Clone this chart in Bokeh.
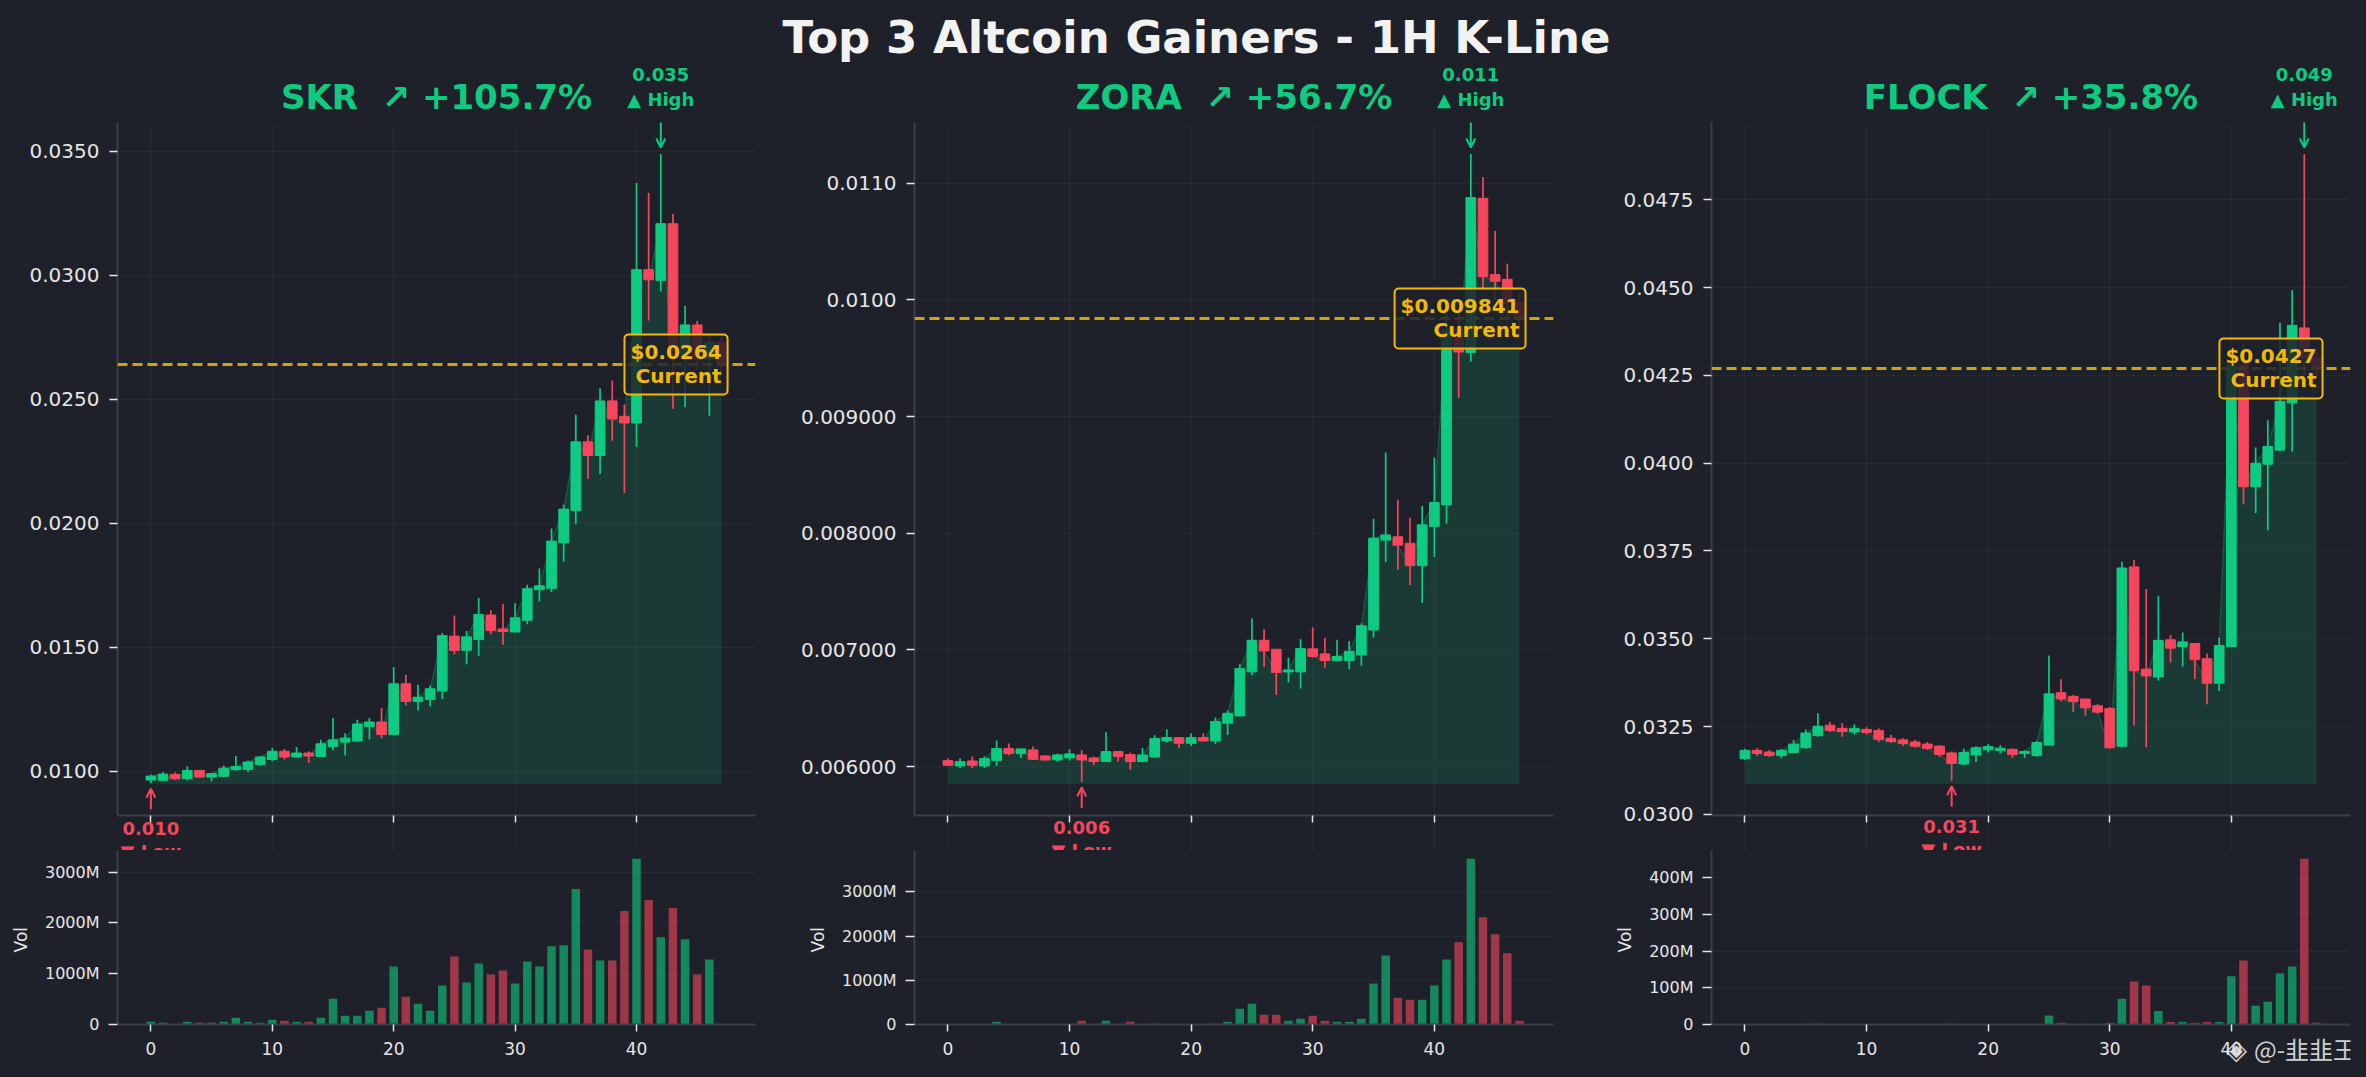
import numpy as np
from bokeh.plotting import figure
from bokeh.layouts import column, row
from bokeh.models import (ColumnDataSource, Range1d, FixedTicker, CustomJSTickFormatter,
                          Label, Arrow, OpenHead, Span, GlobalInlineStyleSheet)
from bokeh.embed import file_html
from bokeh.resources import INLINE

# ---------------- data ----------------
TITLE = "Top 3 Altcoin Gainers - 1H K-Line"
SYMBOLS = ["SKR", "ZORA", "FLOCK"]
CHANGE_PCT = ["+105.7%", "+56.7%", "+35.8%"]
CURRENT = [0.0264, 0.009841, 0.0427]
CURRENT_TXT = ["$0.0264", "$0.009841", "$0.0427"]
WATERMARK = "@-\u97ed\u97ed\u738b"
X_TICKS = [0, 10, 20, 30, 40]

SKR_OPEN = [0.00965, 0.00964, 0.00988, 0.00970, 0.01004, 0.00977, 0.00980, 0.01007, 0.01008, 0.01028,
            0.01048, 0.01081, 0.01058, 0.01074, 0.01060, 0.01101, 0.01118, 0.01122, 0.01181, 0.01199,
            0.01149, 0.01353, 0.01282, 0.01290, 0.01324, 0.01545, 0.01488, 0.01532, 0.01630, 0.01574,
            0.01562, 0.01609, 0.01732, 0.01738, 0.01921, 0.02051, 0.02328, 0.02273, 0.02493, 0.02431,
            0.02404, 0.03022, 0.02979, 0.03207, 0.02680, 0.02799, 0.02660, 0.02730]
SKR_HIGH = [0.00987, 0.00997, 0.00996, 0.01021, 0.01006, 0.00993, 0.01024, 0.01062, 0.01044, 0.01062,
            0.01094, 0.01091, 0.01098, 0.01081, 0.01127, 0.01215, 0.01154, 0.01208, 0.01215, 0.01255,
            0.01420, 0.01389, 0.01349, 0.01346, 0.01557, 0.01628, 0.01566, 0.01699, 0.01650, 0.01675,
            0.01678, 0.01752, 0.01818, 0.01979, 0.02075, 0.02437, 0.02355, 0.02544, 0.02575, 0.02478,
            0.03371, 0.03332, 0.03488, 0.03246, 0.02876, 0.02815, 0.02750, 0.02750]
SKR_LOW = [0.00952, 0.00960, 0.00966, 0.00964, 0.00975, 0.00960, 0.00976, 0.01004, 0.00997, 0.01024,
           0.01042, 0.01048, 0.01055, 0.01034, 0.01058, 0.01085, 0.01064, 0.01118, 0.01129, 0.01133,
           0.01149, 0.01266, 0.01245, 0.01262, 0.01291, 0.01471, 0.01432, 0.01466, 0.01553, 0.01510,
           0.01560, 0.01593, 0.01685, 0.01722, 0.01845, 0.01996, 0.02178, 0.02198, 0.02332, 0.02122,
           0.02307, 0.02817, 0.02934, 0.02461, 0.02467, 0.02620, 0.02433, 0.02610]
SKR_CLOSE = [0.00981, 0.00989, 0.00970, 0.01004, 0.00977, 0.00991, 0.01013, 0.01020, 0.01038, 0.01058,
             0.01081, 0.01058, 0.01074, 0.01062, 0.01111, 0.01127, 0.01134, 0.01191, 0.01199, 0.01149,
             0.01353, 0.01282, 0.01299, 0.01333, 0.01547, 0.01487, 0.01542, 0.01632, 0.01568, 0.01564,
             0.01619, 0.01736, 0.01748, 0.01928, 0.02057, 0.02328, 0.02273, 0.02493, 0.02420, 0.02404,
             0.03022, 0.02981, 0.03207, 0.02680, 0.02799, 0.02660, 0.02730, 0.02640]
SKR_VOL_M = [53, 33, 8, 53, 33, 33, 53, 132, 53, 33,
             93, 73, 53, 53, 132, 509, 172, 172, 271, 330,
             1143, 549, 410, 271, 767, 1342, 826, 1203, 985, 1064,
             806, 1243, 1143, 1540, 1560, 2670, 1480, 1262, 1262, 2234,
             3265, 2452, 1718, 2294, 1679, 985, 1282, 10]

ZORA_OPEN = [0.0060514, 0.0060057, 0.0060486, 0.0060057, 0.0060514, 0.0061543, 0.0061114, 0.0061429, 0.0060914, 0.0060571,
             0.0060743, 0.0061000, 0.0060743, 0.0060429, 0.0061286, 0.0061029, 0.0060429, 0.0060829, 0.0062200, 0.0062486,
             0.0062000, 0.0062486, 0.0062200, 0.0063714, 0.0064343, 0.0068114, 0.0070829, 0.0070057, 0.0068114, 0.0068114,
             0.007009, 0.006966, 0.006909, 0.006909, 0.006957, 0.007171, 0.007941, 0.007970, 0.007914, 0.007722,
             0.008059, 0.008243, 0.009750, 0.009548, 0.010870, 0.010216, 0.010176, 0.009980]
ZORA_HIGH = [0.0060686, 0.0060686, 0.0060857, 0.0060857, 0.0062229, 0.0061971, 0.0061514, 0.0061714, 0.0060971, 0.0061114,
             0.0061486, 0.0061400, 0.0060857, 0.0062943, 0.0061286, 0.0061200, 0.0061600, 0.0062686, 0.0063200, 0.0062486,
             0.0062857, 0.0062857, 0.0064200, 0.0064800, 0.0068771, 0.0072686, 0.0071771, 0.0070057, 0.0069343, 0.0070914,
             0.007193, 0.007103, 0.007088, 0.007075, 0.007228, 0.008124, 0.008692, 0.008286, 0.008133, 0.008234,
             0.008649, 0.009900, 0.009920, 0.011250, 0.011053, 0.010590, 0.010310, 0.010050]
ZORA_LOW = [0.0060057, 0.0059886, 0.0059886, 0.0059886, 0.0060057, 0.0060971, 0.0060743, 0.0060571, 0.0060514, 0.0060400,
            0.0060514, 0.0058686, 0.0060143, 0.0060429, 0.0060429, 0.0059743, 0.0060429, 0.0060743, 0.0062057, 0.0061600,
            0.0061771, 0.0062200, 0.0061943, 0.0062714, 0.0064343, 0.0067829, 0.0068543, 0.0066143, 0.0067200, 0.0066686,
            0.006935, 0.006847, 0.006901, 0.006835, 0.006865, 0.007105, 0.007752, 0.007687, 0.007556, 0.007403,
            0.007796, 0.008081, 0.009160, 0.009470, 0.010080, 0.010000, 0.009750, 0.009700]
ZORA_CLOSE = [0.0060114, 0.0060429, 0.0060114, 0.0060686, 0.0061543, 0.0061114, 0.0061514, 0.0060629, 0.0060571, 0.0061000,
              0.0061086, 0.0060571, 0.0060429, 0.0061286, 0.0060857, 0.0060429, 0.0061000, 0.0062400, 0.0062486, 0.0062000,
              0.0062486, 0.0062200, 0.0063857, 0.0064571, 0.0068400, 0.0070829, 0.0069914, 0.0068057, 0.0068286, 0.0070114,
              0.006944, 0.006909, 0.006944, 0.006988, 0.007207, 0.007958, 0.007985, 0.007897, 0.007722, 0.008072,
              0.008264, 0.009750, 0.009553, 0.010876, 0.010199, 0.010159, 0.009980, 0.009841]
ZORA_VOL_M = [8, 6, 10, 7, 61, 9, 12, 10, 5, 8,
              11, 84, 9, 84, 7, 61, 10, 14, 9, 12,
              8, 11, 15, 61, 357, 471, 220, 220, 84, 129,
              197, 84, 61, 61, 129, 926, 1564, 607, 562, 562,
              881, 1473, 1860, 3751, 2430, 2043, 1610, 84]

FLOCK_OPEN = [0.031581, 0.031821, 0.031775, 0.031672, 0.031761, 0.031895, 0.032240, 0.032537, 0.032449, 0.032343,
              0.032420, 0.032389, 0.032165, 0.032120, 0.032060, 0.032001, 0.031941, 0.031747, 0.031432, 0.031687,
              0.031835, 0.031820, 0.031850, 0.031732, 0.031672, 0.031970, 0.033462, 0.033359, 0.033285, 0.033091,
              0.033014, 0.031941, 0.037046, 0.034135, 0.033910, 0.034971, 0.034777, 0.034866, 0.034432, 0.033733,
              0.034780, 0.042800, 0.039329, 0.039971, 0.040374, 0.041718, 0.043853, 0.043000]
FLOCK_HIGH = [0.031866, 0.031881, 0.031835, 0.031866, 0.032121, 0.032417, 0.032880, 0.032628, 0.032597, 0.032568,
              0.032480, 0.032449, 0.032269, 0.032165, 0.032120, 0.032060, 0.031970, 0.031791, 0.031866, 0.031941,
              0.032001, 0.031970, 0.031881, 0.031821, 0.032090, 0.034523, 0.033850, 0.033403, 0.033285, 0.033135,
              0.033060, 0.037195, 0.037240, 0.036418, 0.036224, 0.035106, 0.035180, 0.034880, 0.034581, 0.035031,
              0.043200, 0.043400, 0.040448, 0.041224, 0.044001, 0.044926, 0.048807, 0.043300]
FLOCK_LOW = [0.031538, 0.031658, 0.031641, 0.031598, 0.031746, 0.031866, 0.032211, 0.032343, 0.032209, 0.032269,
             0.032269, 0.032060, 0.032029, 0.031955, 0.031900, 0.031835, 0.031641, 0.030956, 0.031403, 0.031492,
             0.031761, 0.031732, 0.031612, 0.031612, 0.031641, 0.031970, 0.033211, 0.032911, 0.032806, 0.032866,
             0.031866, 0.031911, 0.032537, 0.031911, 0.033806, 0.034329, 0.034209, 0.033850, 0.033134, 0.033508,
             0.034780, 0.038829, 0.038582, 0.038091, 0.040330, 0.040330, 0.042500, 0.042400]
FLOCK_CLOSE = [0.031821, 0.031732, 0.031672, 0.031821, 0.032001, 0.032315, 0.032509, 0.032389, 0.032357, 0.032449,
               0.032329, 0.032135, 0.032075, 0.032020, 0.031941, 0.031881, 0.031701, 0.031447, 0.031761, 0.031895,
               0.031926, 0.031881, 0.031701, 0.031791, 0.032046, 0.033433, 0.033285, 0.033211, 0.033031, 0.032911,
               0.031895, 0.037015, 0.034090, 0.033941, 0.034954, 0.034732, 0.034910, 0.034404, 0.033733, 0.034806,
               0.042800, 0.039329, 0.040000, 0.040479, 0.041761, 0.043927, 0.043000, 0.042700]
FLOCK_VOL_M = [1.0, 0.8, 0.6, 0.9, 1.2, 1.5, 1.8, 1.0, 0.9, 0.7,
               0.6, 0.9, 0.7, 0.6, 0.8, 0.7, 1.1, 1.6, 1.0, 0.9,
               0.6, 0.5, 0.7, 0.5, 1.3, 24.7, 4.6, 1.2, 1.5, 1.0,
               4.6, 70, 117, 106, 37, 7, 7, 4.6, 7, 7,
               131, 174, 51, 62, 139, 158, 451, 4.6]

SKR_YTICKS = [0.0100, 0.0150, 0.0200, 0.0250, 0.0300, 0.0350]
ZORA_YTICKS = [0.006, 0.007, 0.008, 0.009, 0.010, 0.011]
FLOCK_YTICKS = [0.0300, 0.0325, 0.0350, 0.0375, 0.0400, 0.0425, 0.0450, 0.0475]
SKR_VTICKS = [0, 1e9, 2e9, 3e9]
ZORA_VTICKS = [0, 1e9, 2e9, 3e9]
FLOCK_VTICKS = [0, 1e8, 2e8, 3e8, 4e8]

PANELS = [
    (SKR_OPEN, SKR_HIGH, SKR_LOW, SKR_CLOSE, SKR_VOL_M, SKR_YTICKS, SKR_VTICKS),
    (ZORA_OPEN, ZORA_HIGH, ZORA_LOW, ZORA_CLOSE, ZORA_VOL_M, ZORA_YTICKS, ZORA_VTICKS),
    (FLOCK_OPEN, FLOCK_HIGH, FLOCK_LOW, FLOCK_CLOSE, FLOCK_VOL_M, FLOCK_YTICKS, FLOCK_VTICKS),
]

# ---------------- style / layout ----------------
BG = "#1e2129"
GREEN = "#0ecb81"
RED = "#f6465d"
GOLD = "#f0b90b"
TXT = "#e6e6e6"
SPINE = "#3a3e46"
FONT = "DejaVu Sans"
BASE_FIX = 0.36   # alphabetic-baseline correction (fraction of font size)

TOTAL_W = 2366
X_RANGE = (-2.75, 49.8)
PANEL_W = [790, 800, 776]
CANVAS_LEFT = [0, 790, 1590]
BORDER_L = [117, 124, 121]
BORDER_R = [35, 37, 16]
HEADER_H = 122
PRICE_FRAME_H = 693     # candle area height
PRICE_H = 728           # candle area + strip for the low label
VOL_H, VOL_BARS_H = 227, 174
VOL_LABEL_PAD = 9       # leading spaces that centre "Vol" on the bar area


def style_axis(ax, size, tick_out, standoff):
    ax.axis_line_color = SPINE
    ax.axis_line_width = 2
    ax.major_tick_line_color = TXT
    ax.major_tick_line_width = 1.5
    ax.major_tick_out = tick_out
    ax.major_tick_in = 0
    ax.minor_tick_line_color = None
    ax.major_label_text_color = TXT
    ax.major_label_text_font = FONT
    ax.major_label_text_font_size = f"{size}px"
    ax.major_label_standoff = standoff


def base_fig(k, height, yr, xr=None):
    p = figure(width=PANEL_W[k], height=height, x_range=xr if xr is not None else Range1d(*X_RANGE),
               y_range=yr, output_backend="svg", toolbar_location=None,
               min_border_left=BORDER_L[k], min_border_right=BORDER_R[k],
               min_border_top=0, min_border_bottom=0,
               background_fill_color=BG, border_fill_color=BG, outline_line_color=None)
    p.grid.grid_line_color = "#ffffff"
    p.grid.grid_line_alpha = 0.04
    return p


def text_label(x, y, text, size, color, align="center", baseline="alphabetic", font=FONT,
               bold=True, **kw):
    fix = BASE_FIX * size if baseline == "alphabetic" else 0
    return Label(x=x, y=y, y_offset=fix, text=text, text_align=align, text_baseline=baseline,
                 text_font=font, text_font_style="bold" if bold else "normal",
                 text_font_size=f"{size}px", text_color=color, **kw)


# header figure spanning the full width (main title, panel titles, high labels)
hf = figure(width=TOTAL_W, height=HEADER_H, x_range=Range1d(0, TOTAL_W), y_range=Range1d(0, HEADER_H),
            output_backend="svg", toolbar_location=None, min_border_left=0, min_border_right=0,
            min_border_top=0, min_border_bottom=0, x_axis_location=None, y_axis_location=None,
            background_fill_color=BG, border_fill_color=BG, outline_line_color=None)
hf.grid.visible = False
hf.add_layout(text_label(1196, HEADER_H - 53, TITLE, 45, "#f2f2f2"))


def make_panel(k):
    o, h, l, c, vm, yt, vt = [np.asarray(a, dtype=float) for a in PANELS[k]]
    n = len(c)
    x = np.arange(n)
    base = l.min() * 0.997
    span = h.max() - base
    ys, ye = base - 0.05 * span, h.max() + 0.05 * span
    dpp = (ye - ys) / PRICE_FRAME_H
    ys_ext = ys - (PRICE_H - PRICE_FRAME_H) * dpp

    # header range aligned with this panel's frame
    fl = CANVAS_LEFT[k] + BORDER_L[k]
    fr = CANVAS_LEFT[k] + PANEL_W[k] - BORDER_R[k]
    dpx = (X_RANGE[1] - X_RANGE[0]) / (fr - fl)
    rname = f"p{k}"
    hf.extra_x_ranges[rname] = Range1d(X_RANGE[0] - fl * dpx, X_RANGE[1] + (TOTAL_W - fr) * dpx)

    p = base_fig(k, PRICE_H, Range1d(ys_ext, ye))
    up = c >= o
    colors = [GREEN if u else RED for u in up]
    src = ColumnDataSource(dict(x=x, o=o, h=h, l=l, c=c, top=np.maximum(o, c), bot=np.minimum(o, c),
                                color=colors, base=np.full(n, base)))
    p.varea(x="x", y1="base", y2="c", source=src, fill_color=GREEN, fill_alpha=0.14)
    p.line("x", "c", source=src, line_color=GREEN, line_alpha=0.25, line_width=1.5)
    p.segment(x0="x", y0="l", x1="x", y1="h", source=src, line_color="color", line_width=1.7)
    p.vbar(x="x", width=0.8, top="top", bottom="bot", source=src, fill_color="color",
           line_color="color", line_width=1)

    style_axis(p.xaxis[0], 1, 7, 0)
    p.xaxis.ticker = FixedTicker(ticks=X_TICKS)
    p.xaxis.formatter = CustomJSTickFormatter(code="return '';")
    p.xaxis.fixed_location = ys
    style_axis(p.yaxis[0], 20, 8, 10)
    p.yaxis.bounds = (ys, ye)
    p.yaxis.ticker = FixedTicker(ticks=list(yt))
    p.yaxis.formatter = CustomJSTickFormatter(
        code="return tick >= 0.00999 ? tick.toFixed(4) : tick.toFixed(6);")

    # current price line + box
    p.add_layout(Span(location=CURRENT[k], dimension="width", line_color=GOLD, line_width=3,
                      line_dash="10 5", line_alpha=0.85))
    p.add_layout(Label(x=n - 0.5, y=CURRENT[k], text=CURRENT_TXT[k] + "\nCurrent",
                       text_align="right", text_baseline="middle", text_font=FONT,
                       text_font_style="bold", text_font_size="20px", text_color=GOLD,
                       text_line_height=1.0,
                       background_fill_color=BG, background_fill_alpha=0.85,
                       border_line_color=GOLD, border_line_width=2, padding=6, border_radius=4))

    # panel title (header)
    hf.add_layout(text_label((X_RANGE[0] + X_RANGE[1]) / 2, HEADER_H - 108.3,
                             f"{SYMBOLS[k]}\u00a0 \u2197 {CHANGE_PCT[k]}", 34, GREEN,
                             x_range_name=rname))

    # high annotation
    hi = int(np.argmax(h))
    hv = h[hi]
    hpx = (ye - hv) / dpp  # pixels below frame top
    hf.add_layout(text_label(hi, 73 - hpx, f"{hv:.3f}", 18, GREEN, x_range_name=rname))
    hf.add_layout(text_label(hi, 48.5 - hpx, "\u25b2 High", 18, GREEN, x_range_name=rname))
    p.add_layout(Arrow(x_start=hi, y_start=hv + 34 * dpp, x_end=hi, y_end=hv + 6.5 * dpp,
                       line_color=GREEN, line_width=2,
                       end=OpenHead(size=9, line_color=GREEN, line_width=2)))

    # low annotation
    lo = int(np.argmin(l))
    lv = l[lo]
    p.add_layout(Arrow(x_start=lo, y_start=lv - 26 * dpp, x_end=lo, y_end=lv - 5.5 * dpp,
                       line_color=RED, line_width=2,
                       end=OpenHead(size=9, line_color=RED, line_width=2)))
    p.add_layout(text_label(lo, lv - 52 * dpp, f"{lv:.3f}", 18, RED))
    p.add_layout(text_label(lo, lv - 58 * dpp, "\u25bc Low", 18, RED, baseline="top"))

    # volume: frame runs to the canvas bottom, x axis fixed at 0
    vol = vm * 1e6
    vtop = vol.max() * 1.05
    vpp = vtop / VOL_BARS_H
    v = base_fig(k, VOL_H, Range1d(-(VOL_H - VOL_BARS_H) * vpp, vtop), xr=p.x_range)
    v.xgrid.visible = False
    vsrc = ColumnDataSource(dict(x=x, v=vol, color=colors))
    v.vbar(x="x", width=0.7, top="v", bottom=0, source=vsrc, fill_color="color",
           fill_alpha=0.6, line_color=None)
    style_axis(v.xaxis[0], 17, 7, 10)
    v.xaxis.ticker = FixedTicker(ticks=X_TICKS)
    v.xaxis.fixed_location = 0
    style_axis(v.yaxis[0], 16, 9, 9)
    v.yaxis.bounds = (0, vtop)
    v.yaxis.ticker = FixedTicker(ticks=list(vt))
    v.yaxis.formatter = CustomJSTickFormatter(
        code="return tick == 0 ? '0' : (tick / 1e6).toFixed(0) + 'M';")
    v.yaxis.axis_label = "\u00a0" * VOL_LABEL_PAD + "Vol"
    v.yaxis.axis_label_text_font = FONT
    v.yaxis.axis_label_text_font_style = "normal"
    v.yaxis.axis_label_text_font_size = "17px"
    v.yaxis.axis_label_text_color = TXT
    v.yaxis.axis_label_standoff = 11
    return p, v, vpp


panels = [make_panel(k) for k in range(3)]

# watermark (bottom right of the last volume panel)
wv, wvpp = panels[2][1], panels[2][2]
wv.add_layout(text_label(46.1, -33 * wvpp, WATERMARK, 24, TXT, font="Noto Sans CJK SC",
                         bold=False, text_alpha=0.9))
wv.add_layout(text_label(40.4, -35 * wvpp, "\u25c8", 28, TXT, bold=False, text_alpha=0.9))

layout = column(hf, row(*[column(pp, vv) for pp, vv, _ in panels]))
layout.stylesheets = [GlobalInlineStyleSheet(
    css="html, body { margin: 0; padding: 0; background-color: #1e2129; overflow: hidden; }")]

open("out.html", "w").write(file_html(layout, INLINE))
